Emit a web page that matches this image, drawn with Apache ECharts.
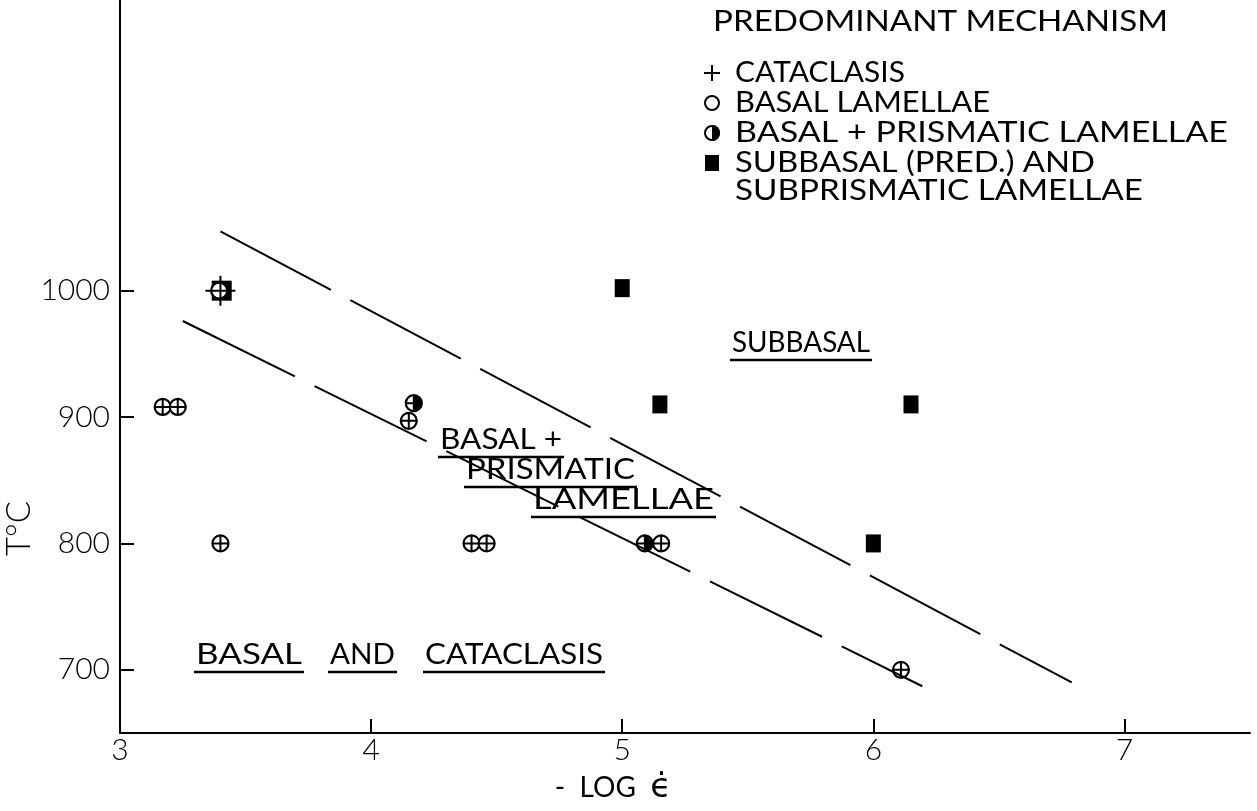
<!DOCTYPE html>
<html><head><meta charset="utf-8">
<script src="https://cdn.jsdelivr.net/npm/echarts@6/dist/echarts.min.js"></script>
<style>html,body{margin:0;padding:0;background:#fff}#c{width:1257px;height:811px}</style>
</head><body><div id="c"></div>
<script>
// ---- data ----
const xTicks = [3, 4, 5, 6, 7];
const yTicks = [700, 800, 900, 1000];
const cataclasis = [[3.40,1000],[3.17,908],[3.23,908],[4.15,897],[4.17,911],[3.40,800],[4.40,800],[4.46,800],[5.09,800],[5.155,800],[6.11,700]];
const basalLamellae = [[3.395,1000],[3.17,908],[3.23,908],[4.15,897],[3.40,800],[4.40,800],[4.46,800],[5.155,800],[6.11,700]];
const basalPrismatic = [[4.17,911],[5.09,800]];
const subbasal = [[3.405,1000],[5.0,1002],[5.15,910],[6.15,910],[6.0,800]];
const upperBoundary = [[3.40,1047],[6.79,690]];
const lowerBoundary = [[3.25,976],[6.195,687]];
const legendTitle = 'PREDOMINANT MECHANISM';
const legendItems = ['CATACLASIS','BASAL LAMELLAE','BASAL + PRISMATIC LAMELLAE','SUBBASAL (PRED.) AND','SUBPRISMATIC LAMELLAE'];
const regionLabels = ['SUBBASAL','BASAL +','PRISMATIC','LAMELLAE','BASAL','AND','CATACLASIS'];

// ---- helpers ----
const FONT = '28px Lato';
const cv = document.createElement('canvas').getContext('2d');
function measure(t){ cv.font = FONT; return cv.measureText(t).width; }
function txt(t, x, y, w){
  return {type:'text', x:x, y:y, scaleX: w / measure(t),
    style:{text:t, font:FONT, fill:'#000', textAlign:'left', textVerticalAlign:'middle'}};
}
function uline(x1, x2, y){
  return {type:'line', shape:{x1:x1,y1:y,x2:x2,y2:y}, style:{stroke:'#000', lineWidth:2.5}};
}
const graphics = [];
graphics.push(txt(legendTitle, 713, 22, 455));
const legY = [73,103,133,163,191];
const legW = [170, 255, 493, 360, 408];
legendItems.forEach((t,i)=>graphics.push(txt(t, 735, legY[i], legW[i])));
// legend symbols
graphics.push({type:'line', shape:{x1:704,y1:73,x2:720,y2:73}, style:{stroke:'#000',lineWidth:2}});
graphics.push({type:'line', shape:{x1:712,y1:65,x2:712,y2:81}, style:{stroke:'#000',lineWidth:2}});
graphics.push({type:'circle', shape:{cx:712,cy:103,r:7}, style:{fill:'#fff',stroke:'#000',lineWidth:2}});
graphics.push({type:'circle', shape:{cx:712,cy:133,r:7}, style:{fill:'#fff',stroke:'#000',lineWidth:2}});
graphics.push({type:'sector', shape:{cx:712,cy:133,r:8,r0:0,startAngle:-Math.PI/2,endAngle:Math.PI/2}, style:{fill:'#000'}});
graphics.push({type:'rect', shape:{x:705,y:155,width:14,height:16}, style:{fill:'#000'}});
// region labels
const rl = [[732,343,138],[440,440,122],[466,470,169],[533,500,181],[196,655,106],[330,655,65],[425,655,178]];
regionLabels.forEach((t,i)=>{
  const [x,y,w] = rl[i];
  graphics.push(txt(t, x, y, w));
  graphics.push(uline(x-2, x+w+2, y+17));
});

const cross = 'path://M-10,0L10,0M0,-10L0,10';
const chart = echarts.init(document.getElementById('c'));
chart.setOption({
  backgroundColor:'#fff',
  animation:false,
  grid:{left:120, right:7, top:0, bottom:78, containLabel:false, outerBoundsMode:'none'},
  xAxis:{type:'value', min:3, max:7.5, interval:1,
    axisLine:{lineStyle:{color:'#000', width:2}},
    axisTick:{inside:true, length:14, lineStyle:{color:'#000', width:2}},
    axisLabel:{color:'#000', fontSize:30, fontFamily:'Lato', fontWeight:300, margin:2, showMaxLabel:false},
    splitLine:{show:false},
    name:'{a|-  LOG  }{e|\u03F5\u0307}', nameLocation:'middle', nameGap:38,
    nameTextStyle:{color:'#000', padding:[0,144,0,0],
      rich:{a:{fontSize:28, fontFamily:'Lato', color:'#000'}, e:{fontSize:34, fontFamily:'DejaVu Sans', color:'#000'}}}},
  yAxis:{type:'value', min:650, max:1230,
    axisLine:{lineStyle:{color:'#000', width:2}},
    axisTick:{inside:true, length:14, customValues:yTicks, lineStyle:{color:'#000', width:2}},
    axisLabel:{color:'#000', fontSize:30, fontFamily:'Lato', fontWeight:300, margin:10, customValues:yTicks,
      formatter:(v)=>String(v)},
    splitLine:{show:false},
    name:'T\u00B0C', nameLocation:'middle', nameGap:84, nameRotate:90, nameMoveOverlap:false,
    nameTextStyle:{color:'#000', fontSize:33, fontFamily:'Lato', fontWeight:300, padding:[0,324,0,0]}},
  graphic: graphics,
  series:[
    {type:'line', data:upperBoundary, symbol:'none', silent:true,
      lineStyle:{color:'#000', width:2, type:[125,22]}},
    {type:'line', data:lowerBoundary, symbol:'none', silent:true,
      lineStyle:{color:'#000', width:2, type:[125,22]}},
    {type:'scatter', name:'SUBBASAL', data:subbasal, symbol:'rect',
      symbolSize:(v,p)=>p.dataIndex===0?[20,20]:[15,18],
      itemStyle:{color:'#000', opacity:1}},
    {type:'scatter', name:'BASAL LAMELLAE', data:basalLamellae, symbol:'circle', symbolSize:16,
      itemStyle:{color:'#fff', borderColor:'#000', borderWidth:2.2, opacity:1}},
    {type:'scatter', name:'BASAL + PRISMATIC', data:basalPrismatic, symbol:'circle', symbolSize:16,
      itemStyle:{color:'#fff', borderColor:'#000', borderWidth:2.2, opacity:1}},
    {type:'scatter', name:'BASAL + PRISMATIC fill', data:basalPrismatic, symbol:'path://M0,-10A10,10,0,0,1,0,10Z',
      symbolSize:[8,16], symbolOffset:[4,0], itemStyle:{color:'#000', opacity:1}},
    {type:'scatter', name:'CATACLASIS', data:cataclasis, symbol:cross,
      symbolSize:(v,p)=>p.dataIndex===0?30:15,
      itemStyle:{color:'none', borderColor:'#000', borderWidth:2, opacity:1}}
  ]
});
</script></body></html>
